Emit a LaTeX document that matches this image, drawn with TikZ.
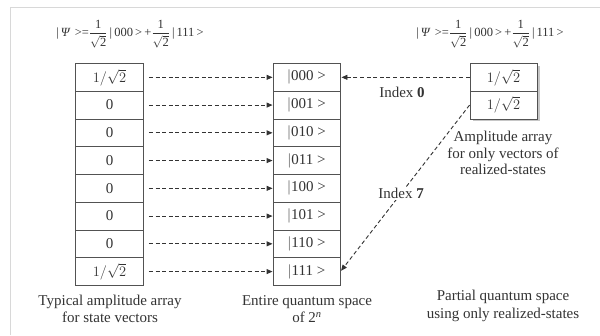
\documentclass[tikz,border=0pt]{standalone}
\usepackage{amsmath}
\usepackage{fontspec}
\setmainfont{Liberation Serif}
\usetikzlibrary{arrows.meta,shadows}
\definecolor{ink}{HTML}{333333}
\definecolor{frameg}{HTML}{D8D8D8}
\tikzset{
  cell/.style={draw=ink!85, line width=0.9pt, minimum width=68pt, minimum height=27.75pt, inner sep=0pt, anchor=north, font=\fontsize{15}{17}\selectfont, text=ink},
  link/.style={draw=ink, line width=0.9pt, dash pattern=on 4pt off 2.6pt, -{Triangle[length=6pt,width=5pt]}},
  captxt/.style={align=center, font=\fontsize{15}{17.5}\selectfont, text=ink},
  lbl/.style={font=\fontsize{15}{17}\selectfont, text=ink},
}
\newcommand{\hsq}{$1/\sqrt{2}$}
\newcommand{\fr}{$\dfrac{\text{1}}{\sqrt{\text{2}}}$}
\newcommand{\psieq}{\fontsize{12.5}{14}\selectfont |\,\textit{Ψ}\,\,>=\fr\,|\,000\,>\,+\fr\,|\,111\,>}
\begin{document}
\begin{tikzpicture}[x=1pt,y=-1pt]
\useasboundingbox (0,0) rectangle (600,335);
\fill[white] (0,0) rectangle (600,335);
\draw[frameg, line width=1pt] (10,335) -- (10,7) -- (600,7);
% formulas
\node[text=ink, inner sep=0pt] (f1) at (130,34) {\psieq};
\node[text=ink, inner sep=0pt] (f2) at (490,34) {\psieq};
% left array
\foreach \i/\t in {1/\hsq,2/0,3/0,4/0,5/0,6/0,7/0,8/\hsq}{
  \node[cell] (L\i) at (109.5,{63+(\i-1)*27.75}) {\t};
}
% middle array
\foreach \i/\t in {1/000,2/001,3/010,4/011,5/100,6/101,7/110,8/111}{
  \node[cell, minimum width=67pt] (M\i) at (306.5,{63+(\i-1)*27.75}) {$|$\t\ >};
}
% right array
\fill[gray!45] (472.5,65.5) rectangle (539.5,120.5);
\node[cell, minimum width=67pt, fill=white] (R1) at (503.5,63) {\hsq};
\node[cell, minimum width=67pt, fill=white] (R2) at (503.5,90.75) {\hsq};
% links
\foreach \i in {1,...,8}{
  \draw[link, shorten <=5pt] (L\i.east) -- (M\i.west);
}
\draw[link, shorten >=1pt] (R1.west) -- (M1.east);
\draw[link, shorten >=1pt] (R2.west) -- node[pos=0.53, fill=white, inner sep=1pt, lbl] (i7) {Index \textbf{7}} (M8.east);
\node[lbl] (i0) at (402,92) {Index \textbf{0}};
% captions
\node[captxt] (c1) at (110,309) {Typical amplitude array\\for state vectors};
\node[captxt] (c2) at (307,309) {Entire quantum space\\of 2\textsuperscript{\textit{n}}};
\node[captxt] (c3) at (503,306) {Partial quantum space\\using only realized-states};
\node[captxt, font=\fontsize{15}{16.5}\selectfont] (c4) at (503,153) {Amplitude array\\for only vectors of\\realized-states};
\end{tikzpicture}
\end{document}
